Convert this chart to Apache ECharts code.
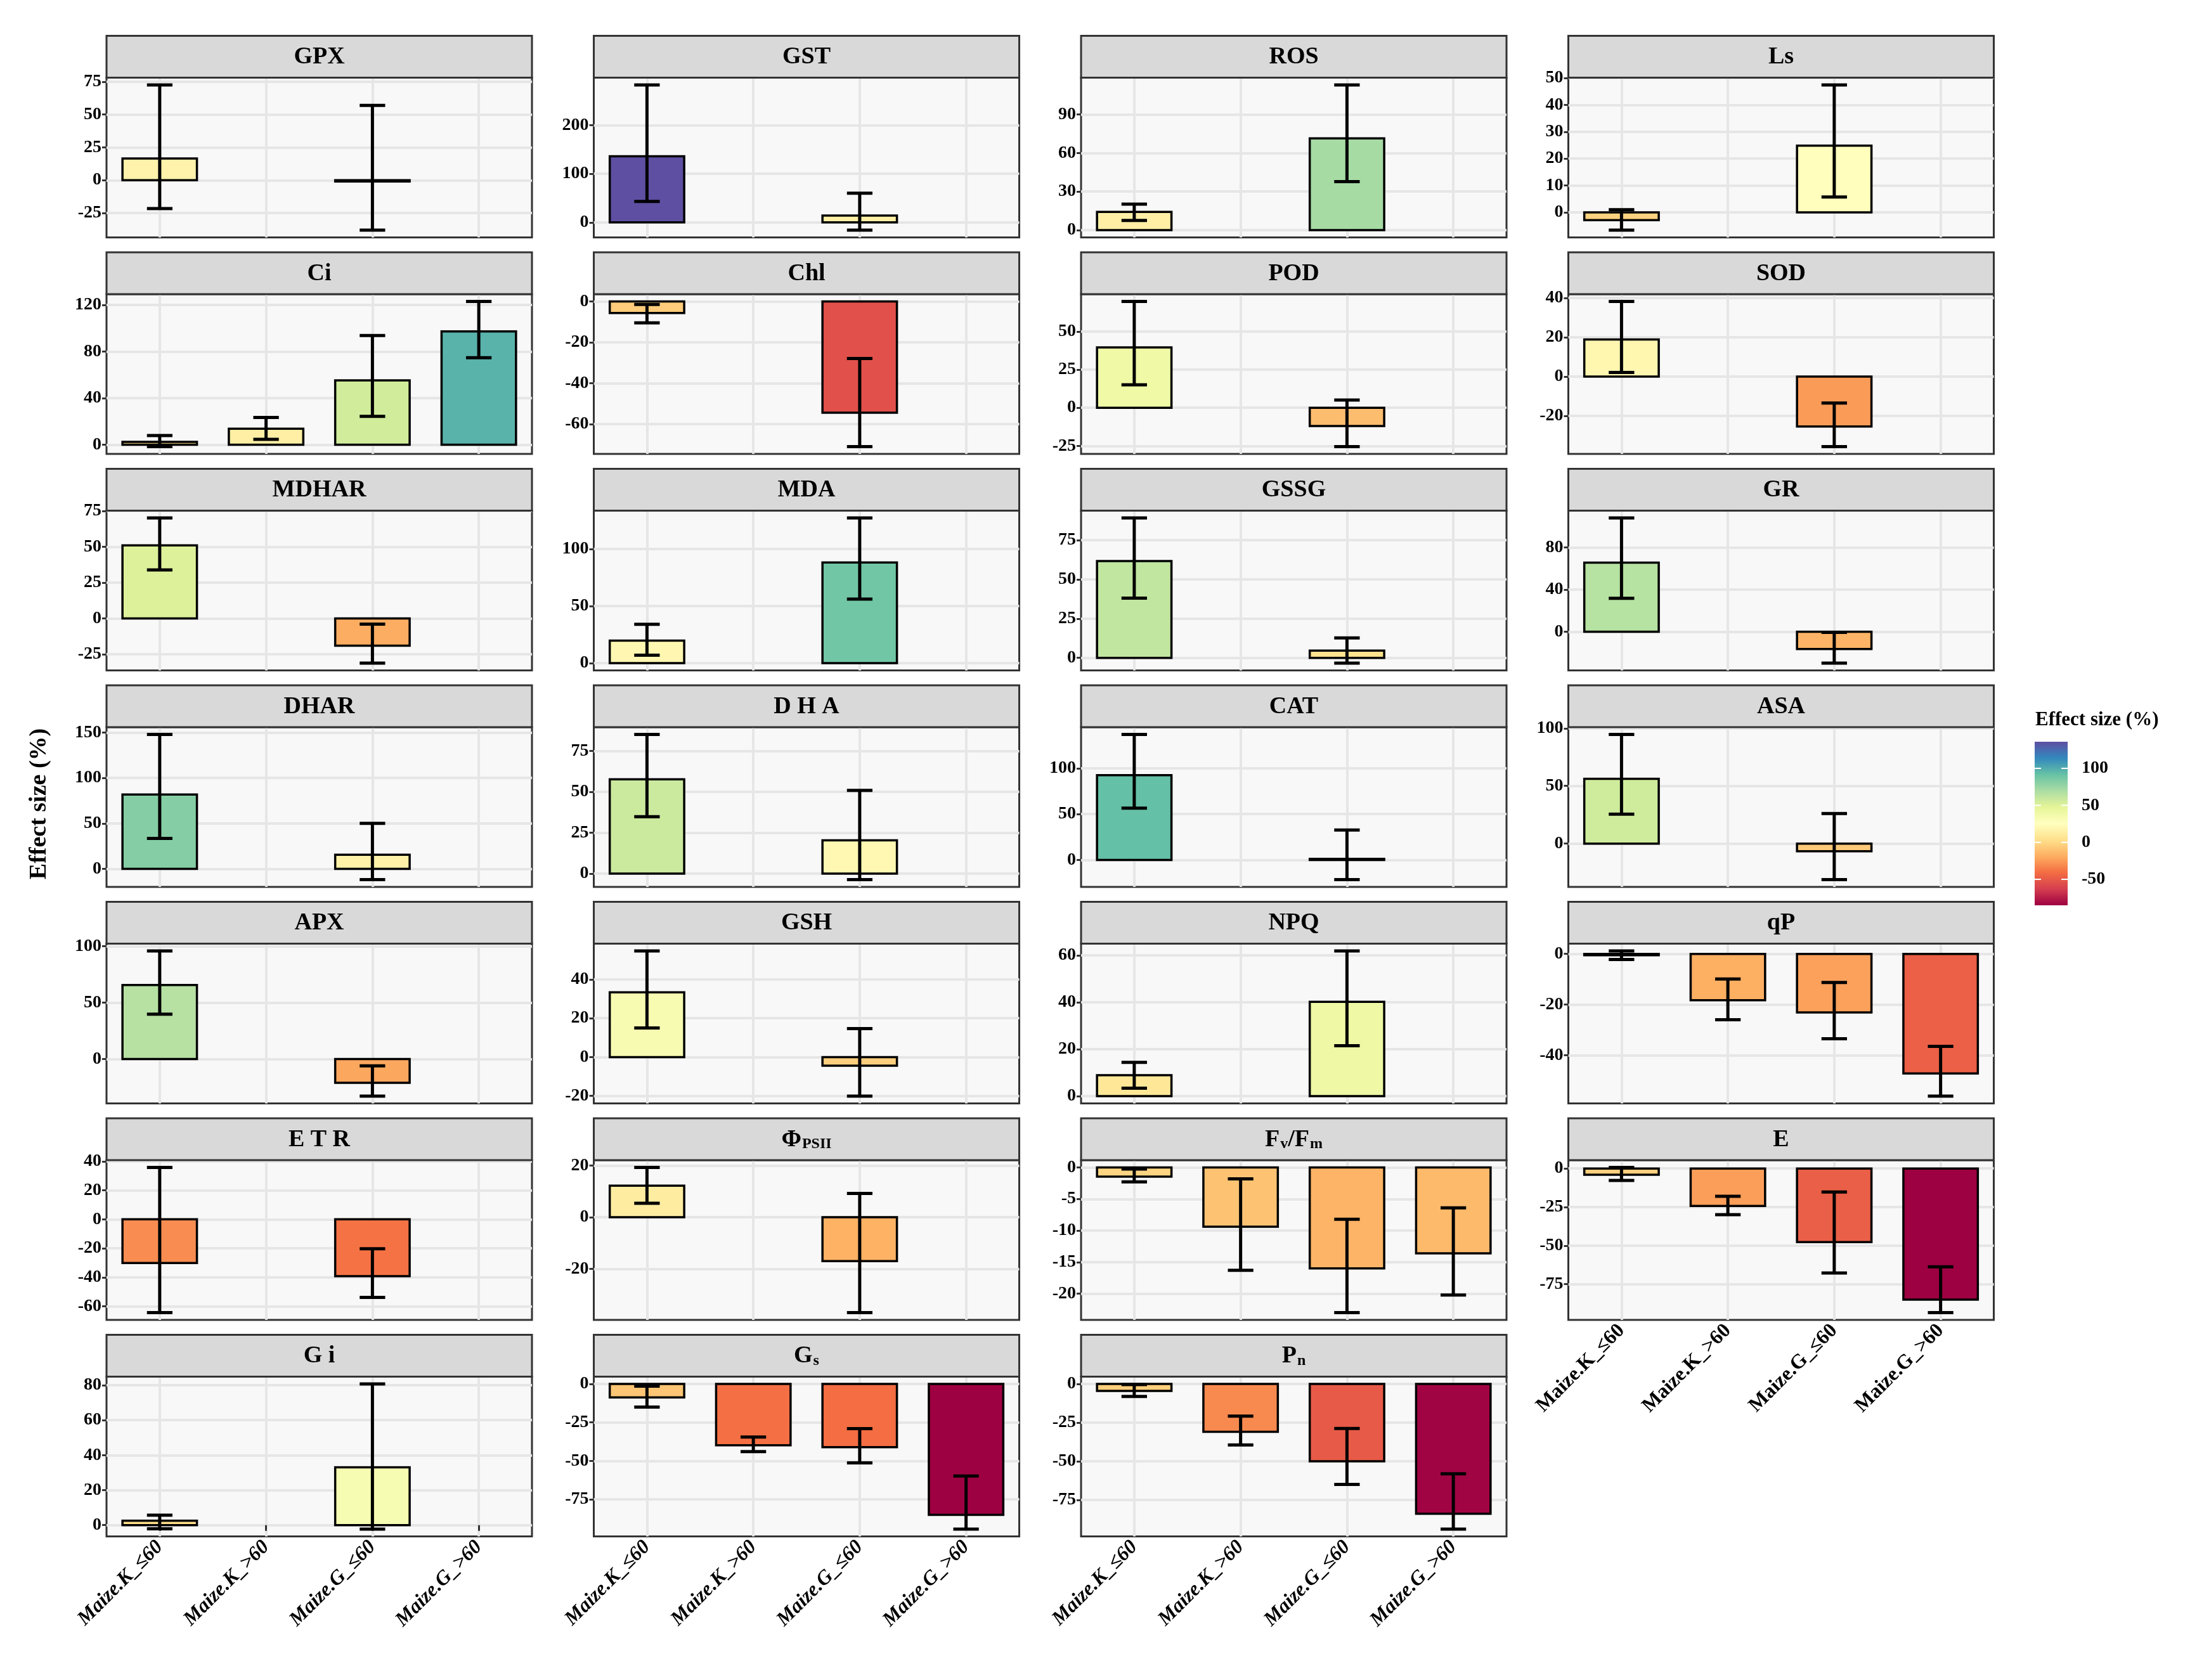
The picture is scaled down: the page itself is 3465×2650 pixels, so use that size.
<!DOCTYPE html>
<html>
<head>
<meta charset="utf-8">
<script src="https://cdn.jsdelivr.net/npm/echarts@6/dist/echarts.min.js"></script>
<style>
  html, body { margin: 0; background: #ffffff; }
  #chart { width: 3465px; height: 2650px; }
</style>
</head>
<body>
<div id="chart"></div>
<script>
// categories on every panel's x axis
const categories = ['Maize.K_≤60', 'Maize.K_>60', 'Maize.G_≤60', 'Maize.G_>60'];

// facet order, row by row
const panelNames = ['GPX', 'GST', 'ROS', 'Ls', 'Ci', 'Chl', 'POD', 'SOD',
    'MDHAR', 'MDA', 'GSSG', 'GR', 'DHAR', 'DHA', 'CAT', 'ASA',
    'APX', 'GSH', 'NPQ', 'qP', 'ETR', 'PhiPSII', 'FvFm', 'E', 'Gi', 'Gs', 'Pn'];

// strip labels (rich text for the subscripts)
const panelTitles = ['GPX', 'GST', 'ROS', 'Ls', 'Ci', 'Chl', 'POD', 'SOD',
    'MDHAR', 'MDA', 'GSSG', 'GR', 'DHAR', 'D H A', 'CAT', 'ASA',
    'APX', 'GSH', 'NPQ', 'qP', 'E T R', '{t|Φ}{s|PSII}', '{t|F}{s|v}{t|/F}{s|m}', 'E',
    'G i', '{t|G}{s|s}', '{t|P}{s|n}'];

// mean effect size (%), null = no data for that group
const meanValues = [
    [16.5, null, -0.9, null],     // GPX
    [136, null, 14, null],        // GST
    [14.2, null, 71.4, null],     // ROS
    [-2.9, null, 24.8, null],     // Ls
    [2.5, 13.8, 55.3, 97.4],      // Ci
    [-5.7, null, -54.4, null],    // Chl
    [39.6, null, -12, null],      // POD
    [18.9, null, -25.4, null],    // SOD
    [51, null, -19, null],        // MDHAR
    [19.7, null, 88.3, null],     // MDA
    [61.7, null, 4.6, null],      // GSSG
    [65.5, null, -16.3, null],    // GR
    [81.7, null, 15.5, null],     // DHAR
    [57.7, null, 20.4, null],     // DHA
    [92.5, null, 1.2, null],      // CAT
    [56.2, null, -6.7, null],     // ASA
    [65.6, null, -21.1, null],    // APX
    [33.4, null, -4.4, null],     // GSH
    [8.9, null, 40.2, null],      // NPQ
    [-0.5, -18.3, -23.1, -47.2],  // qP
    [-30.2, null, -39.2, null],   // ETR
    [12.2, null, -17, null],      // PhiPSII
    [-1.45, -9.4, -16, -13.6],    // Fv/Fm
    [-4, -24.3, -47.7, -85.1],    // E
    [2.5, null, 33, null],        // Gi
    [-8.8, -39.8, -41.1, -85],    // Gs
    [-4.5, -31, -50, -83.9],      // Pn
];

// lower end of the confidence interval
const lowerValues = [
    [-21.6, null, -38, null],
    [43, null, -16, null],
    [7.6, null, 37.8, null],
    [-6.6, null, 5.7, null],
    [-1.6, 4.7, 24.4, 74.8],
    [-10.5, null, -71, null],
    [15, null, -25.5, null],
    [2.1, null, -35.7, null],
    [33.9, null, -31.2, null],
    [7, null, 56.2, null],
    [38, null, -3.4, null],
    [31.8, null, -29.7, null],
    [33.5, null, -11.9, null],
    [34.8, null, -3.7, null],
    [56.5, null, -21.5, null],
    [25.5, null, -31.3, null],
    [39.8, null, -32.9, null],
    [15, null, -20.1, null],
    [3.4, null, 21.5, null],
    [-2.2, -26, -33.5, -56.2],
    [-64.4, null, -53.9, null],
    [5.4, null, -37, null],
    [-2.3, -16.3, -23, -20.2],
    [-7.7, -30, -67.8, -93.5],
    [-2.1, null, -2.3, null],
    [-15, -44, -51.3, -94.3],
    [-8.1, -39.5, -65, -93.9],
];

// upper end of the confidence interval
const upperValues = [
    [72.5, null, 56.9, null],
    [283, null, 60, null],
    [20.3, null, 113, null],
    [1.0, null, 47.4, null],
    [8, 23.4, 93.8, 123.1],
    [-1.5, null, -27.9, null],
    [69.7, null, 5.1, null],
    [38.3, null, -13.5, null],
    [70.2, null, -4, null],
    [34, null, 127.3, null],
    [89.2, null, 12.7, null],
    [107.9, null, -0.5, null],
    [147.9, null, 50, null],
    [85.2, null, 50.9, null],
    [136.9, null, 32.6, null],
    [94.7, null, 26, null],
    [95.8, null, -6.1, null],
    [54.7, null, 14.7, null],
    [14.4, null, 61.9, null],
    [1.2, -9.9, -11.3, -36.5],
    [35.8, null, -20.3, null],
    [19.3, null, 9.2, null],
    [-0.26, -1.8, -8.2, -6.4],
    [0.7, -18, -15.3, -63.8],
    [5.7, null, 80.7, null],
    [-1.5, -34.5, -29, -59.8],
    [-0.4, -20.8, -28.8, -58.1],
];

// y tick labels per panel
const yTicks = [
    [-25, 0, 25, 50, 75], [0, 100, 200], [0, 30, 60, 90], [0, 10, 20, 30, 40, 50],
    [0, 40, 80, 120], [-60, -40, -20, 0], [-25, 0, 25, 50], [-20, 0, 20, 40],
    [-25, 0, 25, 50, 75], [0, 50, 100], [0, 25, 50, 75], [0, 40, 80],
    [0, 50, 100, 150], [0, 25, 50, 75], [0, 50, 100], [0, 50, 100],
    [0, 50, 100], [-20, 0, 20, 40], [0, 20, 40, 60], [-40, -20, 0],
    [-60, -40, -20, 0, 20, 40], [-20, 0, 20], [-20, -15, -10, -5, 0], [-75, -50, -25, 0],
    [0, 20, 40, 60, 80], [-75, -50, -25, 0], [-75, -50, -25, 0],
];

const colorbarTicks = [-50, 0, 50, 100];
// RColorBrewer Spectral, low -> high
const spectral = ['#9E0142', '#D53E4F', '#F46D43', '#FDAE61', '#FEE08B', '#FFFFBF',
    '#E6F598', '#ABDDA4', '#66C2A5', '#3288BD', '#5E4FA2'];

// ---- layout (px)
const FONT = 'Liberation Serif';
const colLeft = 168, colStep = 768.5, panelW = 671;
const rowTop = 56.5, rowStep = 341.5, stripH = 66, plotH = 252;
const AXIS_DARK = '#333333';
const GRID_LINE = '#E6E6E6';

const allMeans = meanValues.flat().filter(v => v != null);
const colorMin = Math.min(...allMeans);
const colorMax = Math.max(...allMeans);

const chart = echarts.init(document.getElementById('chart'), null, {renderer: 'canvas'});

const grids = [], xAxes = [], yAxes = [], series = [], graphics = [];

function renderBar(params, api) {
    const k = api.value(0), m = api.value(1), lo = api.value(2), hi = api.value(3);
    const band = api.size([1, 0])[0];
    const base = api.coord([k, 0]);
    const cx = base[0], y0 = base[1];
    const ym = api.coord([k, m])[1];
    const yl = api.coord([k, lo])[1];
    const yh = api.coord([k, hi])[1];
    const bw = band * 0.7, cw = band * 0.24;
    const errStyle = {stroke: '#000', lineWidth: 5};
    return {
        type: 'group',
        children: [
            {type: 'rect', shape: {x: cx - bw / 2, y: Math.min(y0, ym), width: bw, height: Math.abs(ym - y0)},
                style: {fill: api.visual('color'), stroke: '#000', lineWidth: 3.5}},
            {type: 'line', shape: {x1: cx, y1: yl, x2: cx, y2: yh}, style: errStyle},
            {type: 'line', shape: {x1: cx - cw / 2, y1: yl, x2: cx + cw / 2, y2: yl}, style: errStyle},
            {type: 'line', shape: {x1: cx - cw / 2, y1: yh, x2: cx + cw / 2, y2: yh}, style: errStyle},
        ],
    };
}

panelNames.forEach((name, i) => {
    const r = Math.floor(i / 4), c = i % 4;
    const left = colLeft + c * colStep;
    const stripTop = rowTop + r * rowStep;
    const top = stripTop + stripH;
    // x labels only under the lowest panel of each column
    const showX = r === 6 || i === 23;

    const lows = lowerValues[i].filter(v => v != null);
    const highs = upperValues[i].filter(v => v != null);
    const lo = Math.min(0, ...lows), hi = Math.max(0, ...highs);
    const pad = (hi - lo) * 0.05;

    grids.push({left, top, width: panelW, height: plotH, show: true,
        backgroundColor: '#F8F8F8', borderColor: AXIS_DARK, borderWidth: 3});

    xAxes.push({
        gridIndex: i, type: 'category', data: categories, boundaryGap: true,
        axisLine: {show: false},
        axisTick: {show: showX, alignWithLabel: true, length: 9, lineStyle: {color: AXIS_DARK, width: 3}},
        axisLabel: {show: showX, interval: 0, rotate: 45, margin: 12, color: '#000',
            fontFamily: FONT, fontWeight: 'bold', fontSize: 32,
            fontStyle: i === 23 ? 'normal' : 'italic'},
        splitLine: {show: true, interval: 0, alignWithLabel: true, lineStyle: {color: GRID_LINE, width: 4}},
    });

    yAxes.push({
        gridIndex: i, type: 'value', min: lo - pad, max: hi + pad,
        axisLine: {show: false},
        axisTick: {show: true, length: 7, customValues: yTicks[i], lineStyle: {color: AXIS_DARK, width: 3}},
        axisLabel: {customValues: yTicks[i], margin: 8, color: '#000',
            fontFamily: FONT, fontWeight: 'bold', fontSize: 28},
        splitLine: {show: true, lineStyle: {color: GRID_LINE, width: 4}},
    });

    const items = [];
    meanValues[i].forEach((m, k) => {
        if (m != null) items.push([k, m, lowerValues[i][k], upperValues[i][k]]);
    });
    series.push({
        type: 'custom', name, xAxisIndex: i, yAxisIndex: i, z: 3,
        encode: {x: 0, y: [1, 2, 3]},
        data: items, renderItem: renderBar,
    });

    // facet strip
    graphics.push({
        type: 'rect', z: 10,
        shape: {x: left, y: stripTop, width: panelW, height: stripH},
        style: {fill: '#D9D9D9', stroke: AXIS_DARK, lineWidth: 3},
    });
    graphics.push({
        type: 'text', z: 11, x: left + panelW / 2, y: stripTop + stripH / 2 + 1,
        style: {
            text: panelTitles[i], align: 'center', verticalAlign: 'middle',
            fontFamily: FONT, fontWeight: 'bold', fontSize: 38, fill: '#000',
            rich: {
                t: {fontFamily: FONT, fontWeight: 'bold', fontSize: 38, fill: '#000', verticalAlign: 'bottom'},
                s: {fontFamily: FONT, fontWeight: 'bold', fontSize: 24, fill: '#000', verticalAlign: 'bottom',
                    padding: [0, 0, 0, 1]},
            },
        },
    });
});

// colour bar: its own little grid with a value axis for the labels
const cbIndex = panelNames.length;
grids.push({left: 3209, top: 1170, width: 52, height: 258, show: false});
xAxes.push({gridIndex: cbIndex, type: 'value', min: 0, max: 1, show: false});
yAxes.push({
    gridIndex: cbIndex, type: 'value', min: colorMin, max: colorMax, position: 'right',
    axisLine: {show: false}, axisTick: {show: false}, splitLine: {show: false},
    axisLabel: {customValues: colorbarTicks, margin: 22, color: '#000',
        fontFamily: FONT, fontWeight: 'bold', fontSize: 28},
});
series.push({
    type: 'custom', xAxisIndex: cbIndex, yAxisIndex: cbIndex, silent: true,
    data: [[0, colorMin, colorMax]],
    renderItem(params, api) {
        const p0 = api.coord([0, api.value(1)]);
        const p1 = api.coord([1, api.value(2)]);
        const stops = spectral.map((col, j) => ({offset: j / (spectral.length - 1), color: col}));
        return {
            type: 'rect',
            shape: {x: p0[0], y: p1[1], width: p1[0] - p0[0], height: p0[1] - p1[1]},
            style: {fill: {type: 'linear', x: 0, y: 1, x2: 0, y2: 0, colorStops: stops}},
        };
    },
});
series.push({
    type: 'custom', xAxisIndex: cbIndex, yAxisIndex: cbIndex, silent: true, z: 4,
    data: colorbarTicks.map(v => [0, v]),
    renderItem(params, api) {
        const a = api.coord([0, api.value(1)]);
        const b = api.coord([1, api.value(1)]);
        const st = {stroke: '#ffffff', lineWidth: 2};
        return {
            type: 'group',
            children: [
                {type: 'line', shape: {x1: a[0], y1: a[1], x2: a[0] + 10, y2: a[1]}, style: st},
                {type: 'line', shape: {x1: b[0] - 10, y1: b[1], x2: b[0], y2: b[1]}, style: st},
            ],
        };
    },
});

graphics.push({
    type: 'text', x: 3210, y: 1136,
    style: {text: 'Effect size (%)', align: 'left', verticalAlign: 'middle',
        fontFamily: FONT, fontWeight: 'bold', fontSize: 31, fill: '#000'},
});
graphics.push({
    type: 'text', x: 62, y: 1268, rotation: Math.PI / 2,
    style: {text: 'Effect size (%)', align: 'center', verticalAlign: 'middle',
        fontFamily: FONT, fontWeight: 'bold', fontSize: 38, fill: '#000'},
});

chart.setOption({
    animation: false,
    backgroundColor: '#ffffff',
    grid: grids,
    xAxis: xAxes,
    yAxis: yAxes,
    visualMap: {
        type: 'continuous', show: false, min: colorMin, max: colorMax, dimension: 1,
        seriesIndex: panelNames.map((n, i) => i),
        inRange: {color: spectral},
    },
    series,
    graphic: graphics,
});
</script>
</body>
</html>
